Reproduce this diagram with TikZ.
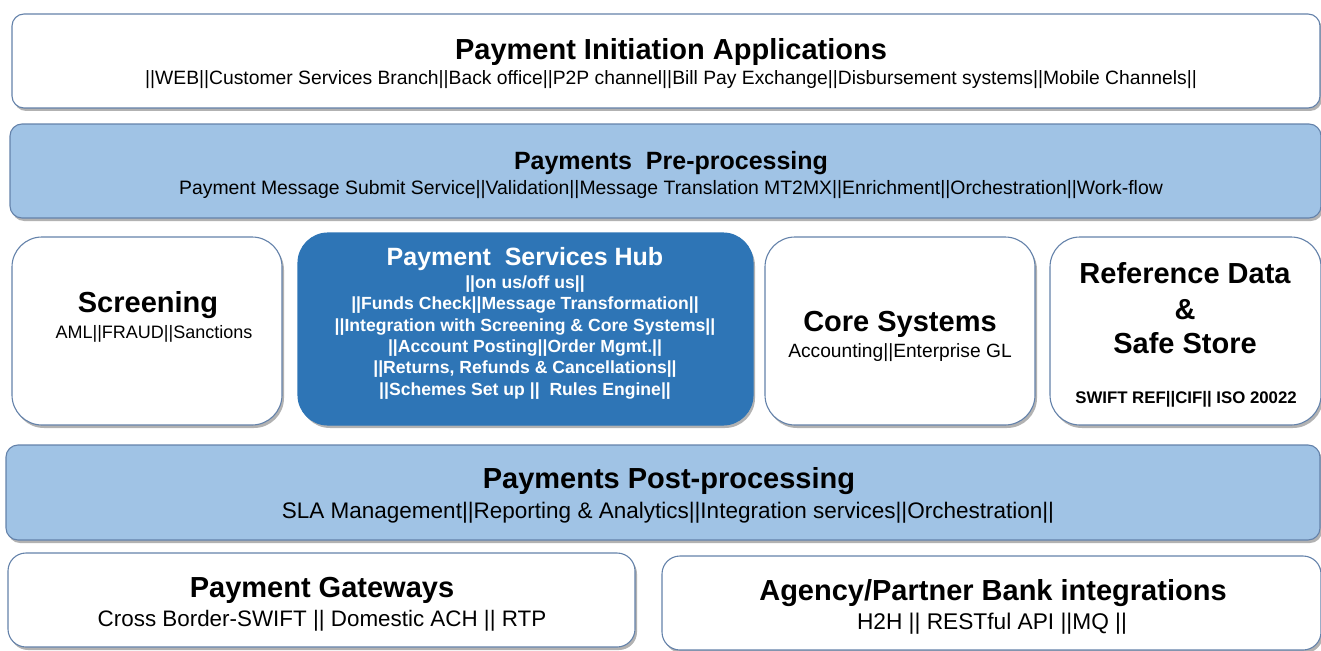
\documentclass[tikz,border=0pt]{standalone}
\usepackage{fontspec}
\setmainfont{Liberation Sans}
\usetikzlibrary{shadows}
\definecolor{edge}{RGB}{100,130,170}
\definecolor{lblue}{RGB}{160,195,229}
\definecolor{hubblue}{RGB}{46,117,182}
\newcommand\fsz[1]{\fontsize{#1}{#1}\selectfont}
\tikzset{
  panel/.style={draw=edge, line width=1.1pt, fill=white, inner sep=0pt,
    drop shadow={shadow xshift=2pt, shadow yshift=-3pt, fill=black, opacity=0.3}},
  bluepanel/.style={panel, fill=lblue},
  hubpanel/.style={panel, fill=hubblue, draw=hubblue},
  ttl/.style={anchor=base, inner sep=0pt, font=\fsz{29}\bfseries},
  sub/.style={anchor=base, inner sep=0pt, font=\fsz{19}},
  hubtxt/.style={anchor=base, inner sep=0pt, text=white, font=\fsz{17.6}\bfseries}
}
\begin{document}
\begin{tikzpicture}[x=1pt,y=-1pt]
\useasboundingbox (0,0) rectangle (1321,650);
% boxes
\path[panel, rounded corners=12pt] (12,14) rectangle (1320,108);
\path[bluepanel, rounded corners=12pt] (10,124) rectangle (1321,218);
\path[panel, rounded corners=30pt] (12,237) rectangle (282,425);
\path[hubpanel, rounded corners=30pt] (298,233) rectangle (753,425);
\path[panel, rounded corners=30pt] (765,237) rectangle (1035,425);
\path[panel, rounded corners=30pt] (1050,237) rectangle (1321,425);
\path[bluepanel, rounded corners=12pt] (6,445) rectangle (1320,540);
\path[panel, rounded corners=18pt] (8,553) rectangle (635,647);
\path[panel, rounded corners=18pt] (662,556) rectangle (1321,650);
% texts
\node[ttl] (t1) at (671,60) {Payment Initiation Applications};
\node[sub, font=\fsz{19.3}] (s1) at (671,85) {||WEB||Customer Services Branch||Back office||P2P channel||Bill Pay Exchange||Disbursement systems||Mobile Channels||};
\node[ttl, font=\fsz{25}\bfseries] (t2) at (671,169) {Payments\ \ Pre-processing};
\node[sub, font=\fsz{19.4}] (s2) at (671,194) {Payment Message Submit Service||Validation||Message Translation MT2MX||Enrichment||Orchestration||Work-flow};
\node[ttl] (t3) at (148,312) {Screening};
\node[sub, font=\fsz{18}] (s3) at (154,338) {AML||FRAUD||Sanctions};
\node[ttl, text=white, font=\fsz{25}\bfseries] (t4) at (525,265) {Payment\ \ Services Hub};
\node[hubtxt] (h1) at (525,288) {||on us/off us||};
\node[hubtxt] (h2) at (525,309) {||Funds Check||Message Transformation||};
\node[hubtxt] (h3) at (525,331) {||Integration with Screening \& Core Systems||};
\node[hubtxt] (h4) at (525,352) {||Account Posting||Order Mgmt.||};
\node[hubtxt] (h5) at (525,373) {||Returns, Refunds \& Cancellations||};
\node[hubtxt] (h6) at (525,395) {||Schemes Set up ||\ \ Rules Engine||};
\node[ttl] (t5) at (900,331) {Core Systems};
\node[sub, font=\fsz{19.2}] (s5) at (900,357) {Accounting||Enterprise GL};
\node[ttl] (t6a) at (1185,283) {Reference Data};
\node[ttl] (t6b) at (1185,319) {\&};
\node[ttl] (t6c) at (1185,353) {Safe Store};
\node[sub, font=\fsz{16.8}\bfseries] (s6) at (1186,403) {SWIFT REF||CIF|| ISO 20022};
\node[ttl] (t7) at (669,488) {Payments Post-processing};
\node[sub, font=\fsz{22.5}] (s7) at (668,518) {SLA Management||Reporting \& Analytics||Integration services||Orchestration||};
\node[ttl] (t8) at (322,597) {Payment Gateways};
\node[sub, font=\fsz{22.4}] (s8) at (322,626) {Cross Border-SWIFT || Domestic ACH || RTP};
\node[ttl] (t9) at (993,600) {Agency/Partner Bank integrations};
\node[sub, font=\fsz{22.7}] (s9) at (992,629) {H2H || RESTful API ||MQ ||};
\end{tikzpicture}
\end{document}
